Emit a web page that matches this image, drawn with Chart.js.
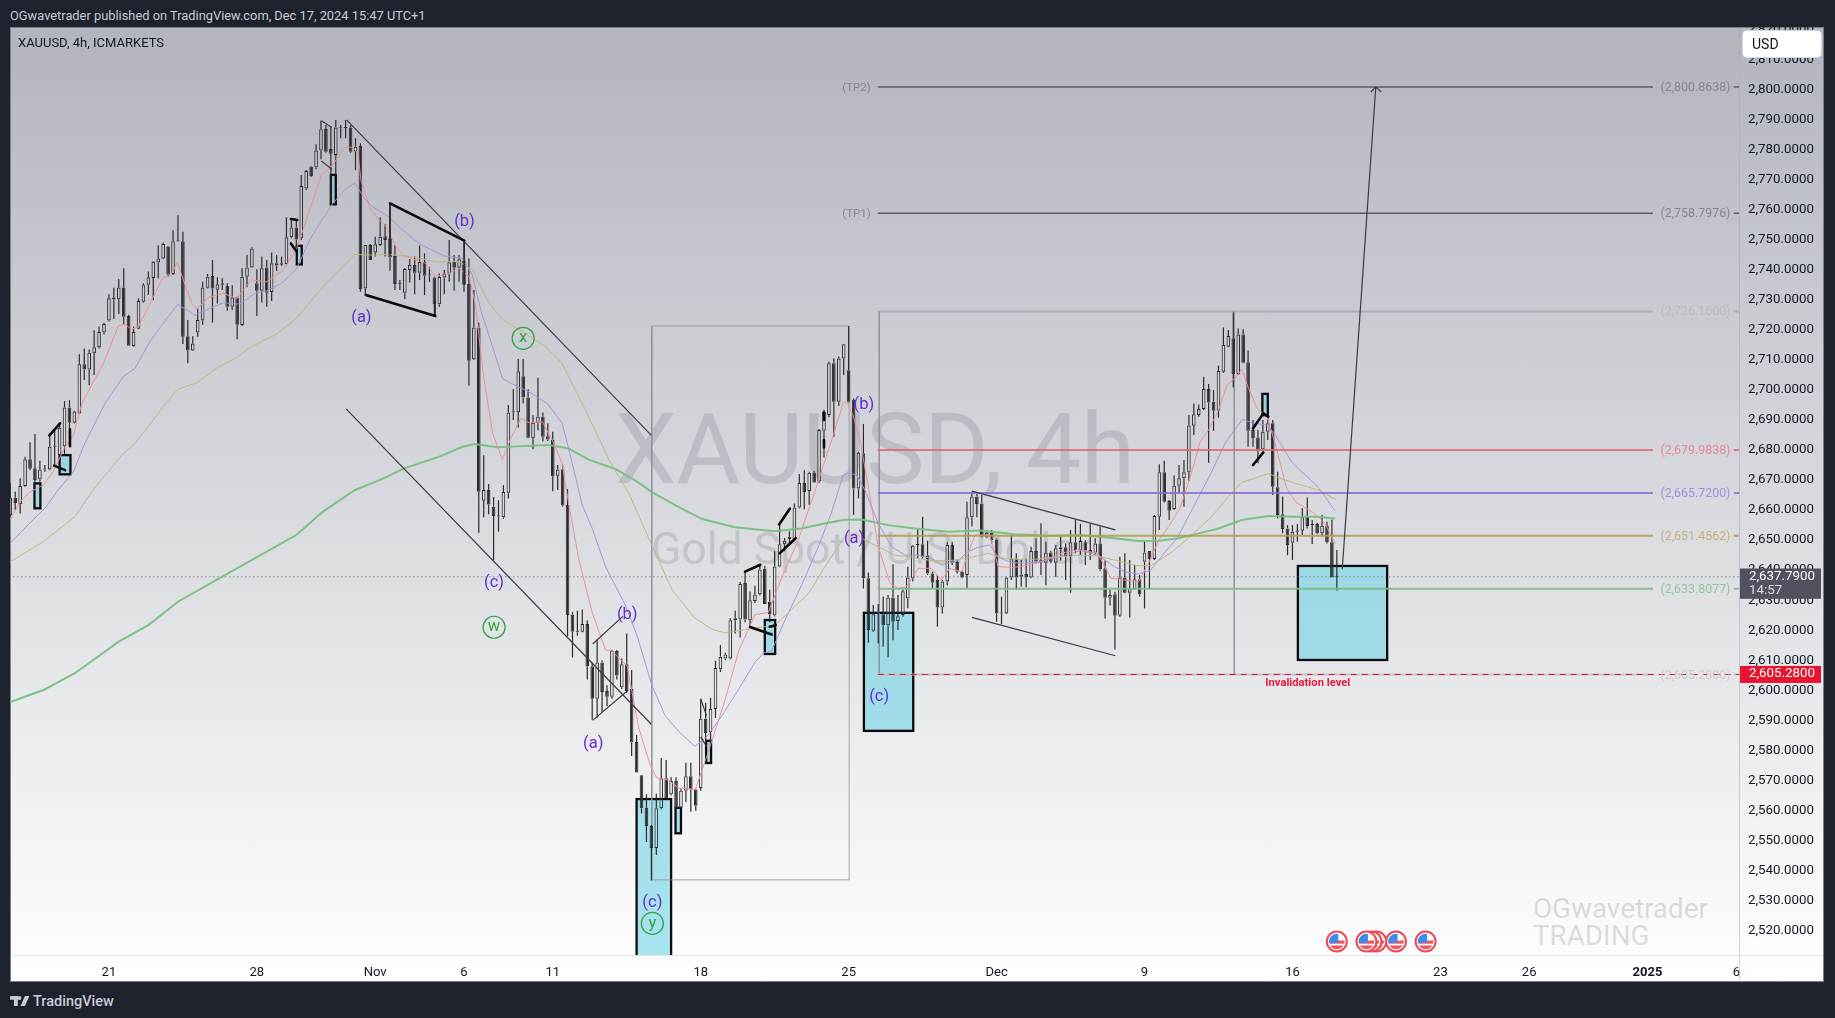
<!DOCTYPE html>
<html>
<head>
<meta charset="utf-8">
<script src="https://cdn.jsdelivr.net/npm/chart.js@4"></script>
<style>
html,body{margin:0;padding:0;width:1835px;height:1018px;background:#1e222d;overflow:hidden;font-family:Roboto,sans-serif}
#frame{position:absolute;left:10px;top:27px;width:1814px;height:955px;background:linear-gradient(#b2b5be,#ffffff);box-shadow:inset 0 0 0 1px #7d808c}
#chart{position:absolute;left:10px;top:27px}
.t{position:absolute;white-space:nowrap}
.wm{color:rgba(120,123,134,.26)}
#usd{position:absolute;left:1743px;top:31px;width:78px;height:26px;background:#fff;border-radius:4px;box-shadow:0 0 0 1px #d6d8e0;color:#131722;font-size:14px;line-height:26px;text-indent:9px}
</style>
</head>
<body>
<div id="frame"></div>
<div class="t wm" style="left:615px;top:395px;font-size:98.5px;line-height:110px;letter-spacing:-.5px" id="wm1">XAUUSD, 4h</div>
<div class="t wm" style="left:651px;top:522px;font-size:44.5px;line-height:54px" id="wm2">Gold Spot / U.S. Dollar</div>
<div class="t wm" style="left:1533px;top:895px;font-size:27.8px;line-height:27px">OGwavetrader<br>TRADING</div>
<canvas id="chart" width="1814" height="955"></canvas>
<div class="t" style="left:10px;top:8px;font-size:12.85px;line-height:16px;color:#c8ccd6">OGwavetrader published on TradingView.com, Dec 17, 2024 15:47 UTC+1</div>
<div class="t" style="left:18px;top:35px;font-size:13px;line-height:16px;color:#131722">XAUUSD, 4h, ICMARKETS</div>
<div id="usd">USD</div>
<svg style="position:absolute;left:10px;top:996px" width="20" height="11" viewBox="0 0 36 20"><path fill="#c8ccd6" d="M0 0h14v18H7V7H0zM17 0a3.6 3.6 0 1 1 0 7.2 3.6 3.6 0 0 1 0-7.2zM27 0h8l-8 18h-8z"/></svg>
<div class="t" style="left:33px;top:993px;font-size:14.5px;line-height:18px;font-weight:500;color:#c8ccd6">TradingView</div>
<script>
// ---------- candles (bar 0 = left edge, 4h bars) ----------
const opens=[2658.3,2664.1,2662.0,2668.0,2676.9,2673.9,2670.2,2673.5,2673.5,2681.1,
2678.3,2681.3,2694.2,2689.1,2692.2,2708.6,2706.8,2712.2,2714.2,2719.1,
2723.1,2730.8,2730.2,2734.1,2724.6,2714.6,2720.4,2729.4,2735.0,2737.3,
2742.4,2743.8,2747.7,2738.6,2749.4,2749.5,2717.9,2713.1,2719.1,2723.1,
2734.0,2737.9,2733.4,2735.5,2734.6,2727.7,2730.8,2721.6,2737.7,2740.8,
2735.5,2733.0,2740.8,2732.6,2742.2,2742.2,2741.9,2750.8,2754.1,2750.5,
2767.1,2774.3,2774.1,2779.7,2786.9,2780.2,2778.2,2787.1,2787.2,2787.4,
2779.4,2781.2,2733.8,2748.3,2745.8,2748.3,2751.2,2750.5,2744.6,2735.3,
2732.4,2739.9,2741.6,2739.0,2742.6,2738.1,2737.4,2728.5,2737.4,2738.8,
2742.6,2740.7,2742.9,2735.3,2710.2,2720.8,2663.1,2666.7,2661.1,2658.0,
2657.6,2665.8,2692.6,2692.6,2704.6,2697.5,2683.9,2688.9,2691.1,2684.6,
2683.3,2671.4,2673.6,2661.7,2625.2,2619.5,2619.5,2622.1,2608.0,2597.2,
2609.3,2599.8,2597.9,2613.1,2601.0,2608.7,2600.4,2582.8,2571.7,2560.9,
2554.8,2547.5,2560.7,2570.7,2565.4,2569.8,2560.9,2566.6,2571.4,2567.0,
2567.5,2590.5,2586.1,2593.8,2607.0,2610.6,2610.6,2623.3,2623.6,2635.7,
2623.3,2629.7,2632.0,2640.5,2629.5,2624.9,2641.2,2648.6,2650.4,2650.1,
2660.9,2669.0,2666.4,2672.4,2669.5,2686.4,2691.7,2708.9,2696.1,2710.5,
2706.6,2696.7,2667.2,2678.9,2637.3,2619.8,2626.2,2625.3,2621.7,2630.9,
2623.1,2625.1,2630.6,2637.3,2648.4,2648.6,2644.9,2638.9,2636.7,2627.6,
2636.2,2648.4,2642.7,2639.5,2638.4,2657.6,2664.5,2662.2,2650.9,2652.5,
2650.2,2625.8,2625.6,2637.6,2643.9,2637.8,2638.7,2637.6,2646.4,2643.4,
2642.5,2645.9,2642.5,2647.6,2647.6,2644.7,2649.3,2646.7,2649.3,2646.7,
2645.8,2648.9,2640.6,2630.8,2632.0,2624.8,2637.6,2632.5,2633.6,2637.0,
2642.8,2646.4,2643.7,2657.8,2672.6,2663.0,2660.4,2668.1,2670.6,2672.5,
2688.1,2691.7,2693.7,2700.3,2696.1,2693.1,2706.1,2714.4,2717.2,2705.3,
2718.5,2709.2,2686.7,2684.2,2680.2,2686.1,2688.9,2667.6,2658.6,2653.9,
2649.1,2652.8,2653.1,2657.8,2655.2,2655.4,2652.3,2654.8,2649.3,2637.9];
const highs=[2668.9,2666.1,2670.6,2677.8,2682.6,2685.3,2676.4,2675.0,2685.5,2686.6,
2688.9,2696.3,2696.6,2693.1,2711.9,2713.8,2713.5,2719.9,2721.1,2722.4,
2731.9,2734.0,2736.9,2740.5,2725.0,2721.1,2730.5,2735.5,2739.4,2742.9,
2748.2,2749.0,2747.9,2753.2,2758.2,2752.7,2723.3,2717.9,2727.2,2736.0,
2738.6,2743.3,2737.5,2737.2,2735.5,2734.9,2731.0,2740.5,2744.9,2747.5,
2740.2,2744.4,2743.3,2745.8,2744.9,2744.4,2757.5,2756.4,2756.6,2771.6,
2773.2,2774.6,2781.8,2789.7,2788.2,2787.7,2789.9,2788.2,2789.9,2788.2,
2783.8,2782.1,2748.3,2748.6,2751.0,2757.5,2755.2,2762.1,2748.3,2736.6,
2740.5,2743.6,2744.4,2748.1,2745.5,2741.0,2737.7,2738.8,2739.9,2749.9,
2744.9,2744.9,2749.4,2743.8,2733.3,2722.5,2678.3,2668.7,2664.4,2663.3,
2668.3,2695.0,2700.2,2710.3,2710.3,2700.2,2691.6,2704.1,2692.5,2688.9,
2686.1,2675.0,2675.2,2667.0,2626.1,2626.5,2626.9,2623.3,2609.3,2617.0,
2610.0,2601.7,2613.4,2613.4,2610.6,2618.9,2606.8,2585.1,2571.7,2565.4,
2555.2,2565.6,2577.5,2576.8,2571.1,2571.1,2567.3,2575.9,2575.9,2567.3,
2597.2,2595.9,2597.5,2609.9,2615.1,2612.5,2624.0,2626.5,2636.1,2639.3,
2632.9,2634.8,2641.8,2641.4,2633.5,2646.3,2655.2,2650.7,2652.9,2662.2,
2672.0,2673.3,2672.8,2673.0,2687.0,2693.4,2709.4,2710.5,2711.1,2715.2,
2721.3,2697.2,2679.4,2688.7,2639.2,2628.4,2628.7,2631.2,2631.7,2642.0,
2631.7,2633.6,2641.1,2648.4,2653.6,2657.8,2649.8,2639.5,2638.4,2636.7,
2649.5,2649.5,2643.4,2639.8,2662.8,2666.1,2665.8,2665.0,2652.8,2653.4,
2650.6,2631.2,2637.8,2651.7,2645.6,2643.4,2643.9,2647.8,2650.6,2655.6,
2649.5,2646.5,2648.4,2651.4,2648.9,2653.4,2656.9,2655.4,2650.0,2655.4,
2650.6,2654.5,2643.2,2633.6,2632.8,2644.5,2645.6,2643.4,2641.7,2638.4,
2649.5,2646.4,2658.4,2675.3,2676.4,2663.4,2671.5,2675.0,2676.7,2691.7,
2695.5,2695.2,2704.4,2702.0,2700.0,2708.1,2720.8,2720.0,2726.2,2720.5,
2720.2,2713.1,2690.0,2686.7,2690.0,2692.2,2690.0,2672.8,2664.5,2655.0,
2655.0,2655.4,2660.6,2664.2,2656.7,2655.8,2658.4,2656.1,2656.9,2646.7];
const lows=[2657.8,2660.0,2658.9,2667.8,2673.3,2668.9,2669.4,2672.8,2673.3,2675.0,
2677.8,2678.3,2681.3,2688.9,2692.0,2703.3,2701.6,2705.0,2713.8,2718.5,
2722.7,2723.6,2725.3,2721.6,2714.7,2714.4,2720.2,2729.1,2731.6,2729.9,
2737.2,2743.5,2737.9,2738.3,2749.4,2715.3,2708.9,2713.0,2717.7,2721.6,
2733.8,2722.4,2728.8,2733.3,2726.4,2726.6,2716.9,2721.3,2734.2,2740.7,
2724.6,2729.1,2727.7,2729.6,2739.6,2741.3,2741.6,2750.5,2746.0,2749.9,
2766.6,2771.0,2773.5,2776.8,2779.0,2762.1,2771.6,2783.8,2783.8,2779.0,
2773.2,2732.7,2731.6,2743.3,2744.4,2747.9,2744.4,2739.7,2733.3,2733.3,
2730.3,2735.8,2731.9,2736.6,2731.6,2736.0,2724.6,2727.7,2731.9,2736.0,
2733.0,2736.0,2732.7,2701.4,2710.0,2652.5,2657.6,2658.6,2643.3,2652.8,
2657.1,2663.9,2690.0,2687.5,2695.5,2683.9,2680.3,2686.6,2682.8,2683.0,
2666.3,2666.7,2661.1,2617.9,2610.9,2618.2,2619.3,2603.6,2590.2,2590.8,
2592.8,2594.7,2597.2,2603.6,2600.4,2599.1,2578.1,2572.6,2559.0,2549.5,
2536.7,2545.2,2560.3,2563.7,2565.0,2560.9,2560.7,2562.8,2559.6,2559.9,
2566.6,2582.6,2580.3,2590.8,2606.1,2610.0,2610.3,2618.9,2617.6,2622.7,
2621.4,2629.1,2631.6,2628.7,2622.7,2624.6,2641.0,2646.3,2649.1,2649.8,
2660.5,2660.3,2661.8,2669.0,2669.0,2677.5,2690.9,2684.4,2694.7,2705.0,
2695.8,2658.4,2663.9,2633.9,2615.8,2619.5,2615.6,2614.5,2611.0,2616.7,
2620.1,2624.5,2627.3,2636.2,2643.9,2643.9,2638.4,2633.9,2621.2,2625.6,
2635.0,2641.7,2638.9,2637.3,2633.9,2654.5,2657.6,2650.9,2650.6,2648.9,
2622.8,2622.0,2625.4,2636.7,2633.4,2634.5,2634.3,2637.3,2642.3,2638.4,
2635.0,2642.3,2637.8,2643.2,2636.7,2632.5,2645.6,2645.0,2641.7,2643.4,
2645.0,2639.8,2623.9,2628.2,2613.6,2624.5,2632.3,2624.2,2633.4,2631.2,
2627.3,2633.9,2643.4,2653.4,2662.5,2656.7,2660.0,2665.6,2661.1,2669.8,
2685.0,2691.1,2693.3,2675.8,2686.4,2690.8,2705.7,2714.2,2700.8,2705.0,
2708.9,2681.1,2681.1,2675.6,2680.0,2683.3,2665.0,2657.2,2652.3,2645.0,
2643.4,2649.5,2651.7,2653.9,2648.7,2652.0,2651.2,2648.9,2637.6,2633.2];
const closes=[2664.2,2662.4,2668.0,2676.9,2673.8,2670.0,2673.5,2673.8,2681.1,2681.3,
2687.4,2694.2,2689.1,2692.8,2708.6,2706.8,2712.4,2714.2,2719.3,2722.0,
2730.5,2730.2,2734.1,2724.4,2714.7,2719.3,2729.6,2734.9,2737.5,2742.7,
2743.8,2748.6,2738.4,2749.5,2749.6,2717.7,2713.1,2715.5,2723.3,2734.1,
2737.7,2733.8,2735.2,2735.0,2727.7,2730.8,2721.7,2737.7,2740.8,2747.1,
2733.0,2740.5,2732.4,2742.2,2741.4,2741.7,2750.8,2754.1,2750.1,2767.9,
2772.9,2771.2,2779.7,2786.8,2779.3,2778.6,2787.4,2787.4,2787.4,2779.3,
2781.0,2733.6,2748.3,2743.3,2748.5,2751.0,2749.9,2744.1,2735.3,2735.2,
2740.3,2741.6,2739.0,2742.6,2738.0,2738.2,2728.6,2737.6,2738.8,2742.5,
2740.7,2743.5,2735.0,2709.7,2720.8,2666.1,2666.7,2661.9,2658.0,2657.9,
2666.0,2692.5,2692.9,2706.2,2697.5,2684.1,2689.1,2691.1,2684.4,2683.5,
2671.3,2673.5,2661.5,2625.1,2619.5,2619.3,2622.1,2608.0,2597.2,2609.3,
2599.4,2597.9,2613.1,2604.9,2608.7,2599.8,2582.6,2572.6,2560.7,2554.8,
2547.5,2560.7,2570.7,2564.1,2569.8,2560.9,2566.6,2571.4,2567.0,2561.6,
2590.5,2585.8,2593.8,2607.4,2611.2,2611.9,2623.3,2624.0,2635.4,2623.6,
2630.0,2631.9,2640.2,2628.7,2625.3,2641.2,2648.6,2649.8,2651.1,2660.9,
2669.0,2666.0,2672.4,2669.2,2686.7,2692.8,2708.9,2696.1,2710.5,2715.2,
2696.1,2667.2,2679.1,2637.3,2620.1,2625.3,2625.6,2621.7,2630.9,2622.8,
2624.7,2633.0,2637.6,2648.1,2648.6,2644.5,2638.9,2635.8,2627.6,2636.2,
2648.4,2642.5,2639.5,2637.6,2657.6,2664.5,2662.0,2651.1,2652.5,2650.0,
2625.6,2625.6,2637.6,2643.9,2637.6,2638.6,2637.6,2646.4,2642.8,2642.5,
2645.9,2642.8,2647.3,2647.0,2644.7,2649.3,2646.7,2649.7,2646.5,2645.8,
2648.9,2640.3,2630.8,2631.7,2624.8,2637.6,2632.5,2634.0,2637.0,2632.0,
2645.9,2643.7,2658.0,2672.6,2662.8,2659.8,2668.1,2670.6,2672.6,2688.2,
2691.9,2693.7,2700.3,2695.8,2693.1,2706.3,2715.0,2718.0,2705.3,2718.5,
2709.1,2686.4,2683.9,2679.8,2686.1,2688.9,2667.8,2658.4,2653.7,2648.4,
2652.8,2653.0,2657.8,2654.7,2655.0,2652.3,2654.8,2649.3,2637.6,2637.79];

// ---------- moving averages: [bar, price] pairs ----------
const maRed=[[0,2656.9],[2,2662.8],[4,2666.1],[6.7,2668.3],[8.7,2672.8],[11.1,2681.1],[12.8,2685.0],[14.5,2695.5],[18.9,2708.9],[21.9,2721.3],[23.2,2721.9],[24.6,2720.2],[26,2721.1],[29,2731.0],[31,2737.5],[32.4,2737.9],[33.9,2742.5],[35.1,2736.6],[36.8,2728.8],[37.9,2727.0],[40.1,2730.8],[43.2,2732.2],[45.9,2730.4],[48.9,2736.6],[52,2736.0],[55.3,2739.9],[58,2746.6],[60.7,2759.9],[63.1,2771.6],[65.4,2774.9],[67.8,2780.8],[69.5,2780.8],[70.5,2778.8],[71.1,2769.9],[72.8,2761.0],[74.5,2757.1],[76.2,2754.4],[78.2,2747.7],[79.9,2744.6],[84.3,2742.1],[86,2738.3],[87.7,2737.9],[91,2740.5],[93.1,2737.7],[94.4,2727.7],[95.8,2706.6],[97.8,2685.5],[99.8,2676.9],[101.5,2683.9],[103.5,2690.5],[105.2,2689.1],[107.9,2689.4],[109.9,2683.3],[111.9,2675.6],[113.3,2661.5],[115.3,2643.5],[118,2625.9],[120.7,2613.4],[122,2613.1],[125.1,2608.0],[127.4,2587.7],[129.8,2574.9],[131.1,2570.8],[133.5,2570.1],[135.5,2567.5],[138.9,2567.0],[140.2,2573.0],[141.9,2581.3],[144.9,2596.6],[147.7,2613.1],[151,2625.2],[153.7,2625.9],[156.4,2637.4],[159.8,2650.1],[163.1,2666.0],[166.8,2684.5],[168.9,2695.7],[169.7,2696.0],[170.9,2691.5],[172.3,2683.3],[174,2667.8],[176,2647.8],[178.4,2635.6],[180,2633.9],[181.7,2634.5],[184.1,2640.6],[186.8,2640.6],[188.8,2636.7],[190.5,2640.6],[192.9,2639.5],[195.6,2651.7],[198.6,2651.7],[200.3,2641.2],[203,2640.9],[205,2641.2],[209,2642.8],[213.1,2645.6],[216.5,2646.9],[220.5,2645.6],[223.2,2637.3],[225.9,2636.7],[228.8,2636.2],[230.8,2642.3],[232.9,2650.0],[234.9,2654.5],[237.2,2660.6],[239.3,2671.1],[241.3,2682.8],[243,2686.7],[245,2693.3],[246.7,2701.6],[248.4,2703.9],[249.7,2706.9],[251.1,2700.5],[252.8,2693.9],[254.8,2691.1],[256.5,2682.2],[258.8,2667.2],[260.8,2662.5],[264.5,2658.9],[266.6,2655.6],[268.7,2648.7]];
const maPurple=[[0,2649.0],[4.7,2656.9],[7,2660.6],[9.7,2666.7],[12.8,2672.8],[15.1,2682.2],[19.2,2695.5],[22.9,2704.4],[25.3,2707.2],[28.3,2716.1],[31,2722.2],[33.9,2728.4],[35.7,2726.8],[37.4,2724.9],[40.5,2727.2],[43.2,2729.0],[46.6,2728.6],[49.6,2732.2],[52,2733.0],[55,2735.5],[58,2740.2],[60.7,2749.9],[63.4,2757.1],[65.4,2762.1],[68.1,2767.1],[69.9,2768.8],[71.8,2763.8],[73.5,2761.0],[76.5,2757.9],[79.6,2753.2],[83.3,2748.3],[88,2744.6],[91.7,2743.8],[93.7,2738.3],[95.4,2726.6],[97.8,2714.4],[99.8,2703.9],[101.5,2702.2],[105.2,2699.4],[108.9,2695.5],[111.9,2688.9],[113.3,2680.0],[116,2661.6],[118,2653.9],[120.7,2641.2],[124.7,2628.4],[127.1,2618.2],[130.1,2601.7],[132.8,2591.5],[135.5,2586.4],[138.8,2581.3],[141.2,2584.5],[144.3,2591.5],[147.7,2600.4],[151,2609.3],[152.8,2612.5],[154.4,2613.1],[157.1,2623.4],[160.4,2634.8],[163.8,2647.6],[166.5,2659.0],[168.9,2671.7],[169.8,2672.4],[171.6,2671.7],[173.3,2666.7],[176,2655.6],[178.7,2647.8],[181.4,2645.0],[184.1,2645.0],[186.8,2643.9],[188.8,2641.7],[192.2,2643.2],[194.2,2646.2],[196.2,2647.6],[198.6,2648.4],[200.3,2644.3],[203,2642.5],[205.7,2642.3],[209.7,2643.2],[213.1,2644.7],[217.1,2646.5],[220.5,2645.0],[223.9,2641.2],[225.9,2639.5],[228.8,2638.7],[231.2,2640.0],[234.2,2646.1],[236.6,2650.6],[239.6,2660.0],[243.3,2671.7],[246.3,2682.2],[248,2686.1],[249.9,2690.2],[252.1,2688.9],[254.8,2688.3],[256.5,2685.0],[259.8,2676.1],[261.5,2673.3],[264.5,2668.9],[265.9,2666.1],[268.6,2659.8]];
const maOlive=[[0,2642.8],[6.7,2649.5],[13.1,2657.8],[16.8,2666.7],[22.6,2678.3],[25.3,2682.2],[31,2694.4],[33.9,2700.2],[37.8,2702.4],[41.8,2707.2],[45.9,2710.8],[48.9,2714.4],[54,2718.6],[58,2723.8],[63.4,2734.4],[69.9,2745.1],[73.5,2744.9],[76.9,2745.2],[81.6,2744.3],[86.3,2742.7],[91,2742.7],[93.7,2740.1],[97.1,2728.8],[99.8,2723.5],[103.9,2719.4],[108.6,2714.4],[111.9,2708.8],[113.3,2704.2],[116.6,2693.4],[121.4,2676.8],[125.5,2665.4],[129.6,2650.1],[134.2,2633.5],[138.6,2624.4],[142.4,2620.2],[145,2619.1],[149,2620.2],[155.1,2621.7],[157.8,2625.9],[161.9,2632.3],[165.2,2641.2],[169.3,2651.4],[171.3,2652.3],[173.3,2650.0],[176,2647.8],[179.4,2645.0],[182.7,2644.3],[186.8,2643.2],[190.8,2643.2],[194.9,2644.3],[198.3,2645.6],[201.6,2643.9],[206.3,2643.4],[211.7,2644.3],[217.1,2645.0],[220.5,2644.7],[223.9,2643.4],[228.8,2641.4],[231.5,2641.7],[235.6,2646.1],[239.6,2651.7],[243.6,2657.8],[247,2664.5],[249.7,2669.2],[252.8,2670.9],[255.1,2672.2],[258.5,2670.0],[261.9,2668.3],[265.6,2666.5],[268.8,2663.4]];
const maGreen=[[0,2596.1],[6.7,2600.1],[13.1,2605.7],[22,2616.2],[28,2621.7],[34,2629.5],[43.6,2638.4],[58,2651.7],[63.4,2659.5],[69.9,2666.7],[74.9,2670.0],[79.9,2673.9],[87,2677.8],[91.7,2681.1],[94.1,2682.0],[98.8,2680.9],[103.9,2681.3],[109.2,2681.7],[111.9,2680.9],[113.3,2680.4],[117.3,2676.8],[122.7,2673.7],[126.8,2669.8],[130.1,2666.0],[134.9,2661.6],[140.2,2657.1],[146.9,2654.3],[155.1,2653.0],[160.4,2653.9],[165.9,2655.8],[169.2,2656.8],[172.6,2656.9],[178,2655.0],[183.4,2653.9],[190.2,2652.8],[196.9,2653.2],[203.6,2652.0],[210.4,2651.5],[217.1,2651.7],[223.9,2650.6],[228.8,2649.7],[232.9,2649.8],[236.9,2650.6],[241.6,2652.5],[245,2653.9],[249.7,2656.7],[255.1,2658.0],[260.5,2657.8],[265.2,2657.8],[268.7,2657.2]];

// ---------- axes ----------
const timeTickBars=[20,50,74,92,110,140,170,200,230,260,290,308,332,350];
const timeTickLabels=['21','28','Nov','6','11','18','25','Dec','9','16','23','26','2025','6'];
const lastPrice=2637.79, lastCountdown='14:57', invalidPrice=2605.28;

// ---------- horizontal levels ----------
const levelPrices=[2800.8638,2758.7976,2726.16,2679.9838,2665.72,2651.4562,2633.8077,2605.28];
const levelNames=['(TP2)','(TP1)','','','','','',''];
const levelColors=['rgba(80,83,92,.9)','rgba(80,83,92,.9)','rgba(165,167,175,.8)','rgba(232,100,115,.85)','rgba(145,105,215,.85)','rgba(175,160,80,.9)','rgba(120,190,130,.9)','rgba(190,192,198,.9)'];
const levelTextColors=['#85878f','#85878f','#b9bbc1','#e58a94','#a78bdc','#bdb57c','#8fc79a','#c9cacd'];
const levelStartBar=175.9, levelEndBar=333.1, levelTickFrom=349.5, levelTickTo=350.6;

// ---------- drawings, in [bar, price, bar, price] ----------
const thinSegments=[[68.2,2789.9,130,2684.9],[68.1,2693.7,130,2588.7],[118.1,2615.4,124.2,2624.6],[118.1,2590,125.1,2599.8],[63.1,2789.6,65.2,2787.4],[63.1,2776.2,65.2,2773.5],[140,2597.2,141.2,2591.5],[140,2584.5,141.2,2581.3],[195,2666.3,224.1,2653.4],[195,2624.3,224.1,2611.5],[270.1,2640.3,276.9,2800.9],[275.9,2799.2,276.9,2800.9],[276.9,2800.9,278,2799.2]];
const thickSegments=[[7.9,2684.8,10.1,2688.9],[8.9,2674.8,11.1,2673.3],[12.1,2686.9,12.1,2681.3],[56.9,2756.9,58.2,2756.6],[56.9,2748.8,58.1,2746.0],[77,2762.1,92.06,2749.7],[72.1,2731.6,86.2,2724.6],[149,2639.5,152.1,2641.8],[150,2621.1,154.4,2618.6],[154,2621.2,155.2,2621.7],[155.9,2655.2,158.1,2660.5],[156,2645.6,159.3,2650.7],[252,2687.2,254.1,2692.2],[254.1,2692.2,255.1,2691.1],[252,2675,254.1,2679.2],[165,2692.5,165,2690],[165,2683.3,165,2680.9]];
const boxSegments=[[130.1,2721.3,130.1,2536.9],[130.1,2536.9,170.1,2536.9],[170.1,2536.9,170.1,2721.3],[130.1,2721.3,170.1,2721.3],[176.2,2726.16,176.2,2605.28],[248.2,2726.16,248.2,2605.28],[176.2,2605.28,248.2,2605.28]];
const flagPole=[[77,2762.1,77,2745],[86.2,2724.6,86.2,2730],[92.06,2749.7,92.06,2735]];
const tealBoxes=[[127,2563.8,134,2505],[173.1,2625.8,183.1,2586.5],[261.1,2641.4,279.2,2610.1],[4.9,2668.9,6.1,2660.6],[10,2678.3,12.2,2671.9],[58.1,2748,59.1,2741.8],[65,2771.6,66,2761.8],[134.9,2560.9,136,2552.4],[141.1,2583.2,142.1,2575.8],[153,2623.4,155.1,2612.1],[253.9,2698.7,255,2691.6]];
const waveLabels=['(a)','(b)','(c)','(a)','(b)','(c)','(a)','(b)','(c)'];
const waveBars=[71.2,92.1,98.1,118.2,125.1,130.2,171.1,173.1,176.2];
const wavePrices=[2724.4,2756.4,2636.2,2582.6,2625.5,2529.7,2650.9,2695.3,2598.2];
const circleLabels=['x','w','y'];
const circleBars=[104,98.1,130.2];
const circlePrices=[2717.2,2621,2522.4];
const noteText='Invalidation level', noteBar=263.1, notePrice=2602.7;
const eventBars=[277,276,275,269,281,287];

const FONT='Roboto, sans-serif';
const idx=opens.map((_,i)=>i);
const pairs=a=>a.map(p=>({x:p[0],y:p[1]}));
const segs=list=>list.flatMap(s=>[{x:s[0],y:s[1]},{x:s[2],y:s[3]},{x:s[2],y:null}]);
const line=(data,color,w,order,extra)=>Object.assign({type:'line',data,borderColor:color,borderWidth:w,pointRadius:0,tension:0,fill:false,order,spanGaps:false},extra||{});

const wick='#2b2b2e';
const bar=(data,o)=>Object.assign({type:'bar',data,grouped:false,borderSkipped:false,inflateAmount:0},o);
const datasets=[
 line(segs(boxSegments),'rgba(140,142,150,.75)',1,8),
 line([{x:-1,y:lastPrice},{x:350.6,y:lastPrice}],'#55585f',1,7,{borderDash:[1,3]}),
 bar(idx.map(i=>({x:i,y:[Math.max(opens[i],closes[i]),highs[i]]})),{barThickness:1.2,backgroundColor:wick,order:6}),
 bar(idx.map(i=>({x:i,y:[lows[i],Math.min(opens[i],closes[i])]})),{barThickness:1.2,backgroundColor:wick,order:6}),
 bar(idx.map(i=>({x:i,y:[opens[i],closes[i]]})),{barThickness:3.6,minBarLength:1,borderWidth:1,borderColor:wick,backgroundColor:idx.map(i=>closes[i]>=opens[i]?'rgba(255,255,255,.12)':wick),order:5}),
 line(pairs(maGreen),'rgba(118,192,128,.95)',2,4),
 line(pairs(maOlive),'rgba(190,183,125,.95)',1,3),
 line(pairs(maPurple),'rgba(165,145,215,.95)',1,3),
 line(pairs(maRed),'rgba(240,140,150,.95)',1,3)
];
levelPrices.forEach((p,k)=>{
 const w=k<2?1.5:2;
 datasets.push(line([{x:levelStartBar,y:p},{x:levelEndBar,y:p},{x:levelEndBar,y:null},{x:levelTickFrom,y:p},{x:levelTickTo,y:p}],levelColors[k],w,2));
});
datasets.push(line([{x:levelStartBar,y:invalidPrice},{x:350.6,y:invalidPrice}],'#e8152f',1,1,{borderDash:[6,5]}));
datasets.push(line(segs(thinSegments),'#3a3c42',1.2,1));
datasets.push(line(segs(flagPole),'#2b2b2e',1,1));
datasets.push(line(segs(thickSegments),'#0b0b0b',2.6,0,{borderCapStyle:'round'}));

const marks={
 id:'marks',
 beforeDatasetsDraw(c){
  const {ctx,chartArea:a,scales:{x,y}}=c;
  ctx.save();ctx.beginPath();ctx.rect(a.left,a.top,a.right-a.left,a.bottom-a.top);ctx.clip();
  tealBoxes.forEach(b=>{
   const l=x.getPixelForValue(b[0]),r=x.getPixelForValue(b[2]),t=y.getPixelForValue(b[1]),m=y.getPixelForValue(b[3]);
   ctx.fillStyle='rgba(117,213,230,.62)';ctx.fillRect(l,t,r-l,m-t);
   ctx.strokeStyle='#0b0b0b';ctx.lineWidth=2.3;ctx.strokeRect(l,t,r-l,m-t);
  });
  ctx.restore();
 },
 afterDraw(c){
  const {ctx,chartArea:a,scales:{x,y}}=c;
  ctx.save();
  // pane separators
  ctx.strokeStyle='#e4e5e9';ctx.lineWidth=1;
  ctx.beginPath();ctx.moveTo(1,a.bottom+.5);ctx.lineTo(c.width-1,a.bottom+.5);ctx.stroke();
  ctx.strokeStyle='rgba(170,172,182,.55)';
  ctx.beginPath();ctx.moveTo(a.right+.5,1);ctx.lineTo(a.right+.5,c.height-1);ctx.stroke();
  // clip of the last time label at the price axis
  ctx.fillStyle='#fdfdfd';ctx.fillRect(a.right+1,a.bottom+3,8,22);
  // wave labels
  ctx.textAlign='center';ctx.textBaseline='middle';
  ctx.font='16.5px '+FONT;ctx.fillStyle='#5f2fd0';
  waveLabels.forEach((t,k)=>ctx.fillText(t,x.getPixelForValue(waveBars[k]),y.getPixelForValue(wavePrices[k])+1));
  circleLabels.forEach((t,k)=>{
   const cx=x.getPixelForValue(circleBars[k]),cy=y.getPixelForValue(circlePrices[k]);
   ctx.strokeStyle='#2fa53f';ctx.lineWidth=1.2;ctx.beginPath();ctx.arc(cx,cy,11,0,Math.PI*2);ctx.stroke();
   ctx.fillStyle='#2fa53f';ctx.font='16.5px '+FONT;ctx.fillText(t,cx,cy);
  });
  ctx.fillStyle='#e8193c';ctx.font='bold 11.2px '+FONT;
  ctx.fillText(noteText,x.getPixelForValue(noteBar),y.getPixelForValue(notePrice)+.5);
  // level labels
  ctx.font='12.4px '+FONT;
  levelPrices.forEach((p,k)=>{
   const py=y.getPixelForValue(p)+1;
   ctx.fillStyle=levelTextColors[k];ctx.textAlign='left';
   ctx.fillText('('+p.toLocaleString('en-US',{minimumFractionDigits:4})+')',x.getPixelForValue(levelEndBar)+7.5,py);
   if(levelNames[k]){ctx.textAlign='right';ctx.fillStyle='#85878f';ctx.font='11.5px '+FONT;ctx.fillText(levelNames[k],x.getPixelForValue(levelStartBar)-7,py);ctx.font='12.4px '+FONT;}
  });
  ctx.restore();
  // calendar events
  eventBars.forEach(b=>{
   const cx=x.getPixelForValue(b),cy=a.bottom-13.5,r=10;
   ctx.save();
   ctx.beginPath();ctx.arc(cx,cy,r,0,Math.PI*2);ctx.fillStyle='#fff';ctx.fill();
   ctx.strokeStyle='#ef4a55';ctx.lineWidth=2;ctx.stroke();
   ctx.beginPath();ctx.arc(cx,cy,r-2.2,0,Math.PI*2);ctx.clip();
   ctx.fillStyle='#f2555f';ctx.fillRect(cx-r,cy-1,2*r,3.2);ctx.fillRect(cx-r,cy+4,2*r,5);
   ctx.fillStyle='#3d8bea';ctx.fillRect(cx-r,cy-r,r+1.5,r+1.5);
   ctx.restore();
  });
  // price tags
  ctx.save();
  const tagL=a.right+1,tagW=81;
  const ly=y.getPixelForValue(lastPrice);
  ctx.fillStyle='#50535f';ctx.fillRect(tagL,ly-8.3,tagW,30.3);
  const iy=y.getPixelForValue(invalidPrice);
  ctx.fillStyle='#e8152f';ctx.fillRect(tagL,iy-8.5,tagW,17);
  ctx.font='13.3px '+FONT;ctx.textAlign='left';ctx.textBaseline='middle';ctx.fillStyle='#fff';
  ctx.fillText(lastPrice.toLocaleString('en-US',{minimumFractionDigits:4}),a.right+10,ly-.5);
  ctx.fillText(invalidPrice.toLocaleString('en-US',{minimumFractionDigits:4}),a.right+10,iy-.5);
  ctx.fillStyle='#dcdee4';ctx.fillText(lastCountdown,a.right+10,ly+13.5);
  ctx.restore();
 }
};

new Chart(document.getElementById('chart'),{
 type:'bar',
 data:{datasets},
 plugins:[marks],
 options:{
  responsive:false,animation:false,events:[],
  layout:{padding:0},
  plugins:{legend:{display:false},tooltip:{enabled:false},title:{display:false}},
  scales:{
   x:{type:'linear',min:-0.06,max:350.55,offset:false,grid:{display:false},border:{display:false},
    afterBuildTicks(s){s.ticks=timeTickBars.map(v=>({value:v}));},
    afterFit(s){s.height=27;s.paddingLeft=0;s.paddingRight=0;},
    ticks:{autoSkip:false,maxRotation:0,minRotation:0,padding:1.5,color:'#131722',
     font:c=>({family:FONT,size:13,weight:c.tick&&timeTickLabels[timeTickBars.indexOf(c.tick.value)]==='2025'?'bold':'normal'}),
     callback:v=>timeTickLabels[timeTickBars.indexOf(v)]}},
   y:{type:'linear',position:'right',min:2511.88,max:2820.84,grid:{display:false,drawTicks:false},border:{display:false},
    afterFit(s){s.width=85;s.paddingTop=0;s.paddingBottom=0;},
    ticks:{stepSize:10,includeBounds:false,autoSkip:false,padding:9,crossAlign:'near',color:'#131722',font:{family:FONT,size:13.3},
     callback:v=>v.toLocaleString('en-US',{minimumFractionDigits:4})}}
  }
 }
});
</script>
</body>
</html>
